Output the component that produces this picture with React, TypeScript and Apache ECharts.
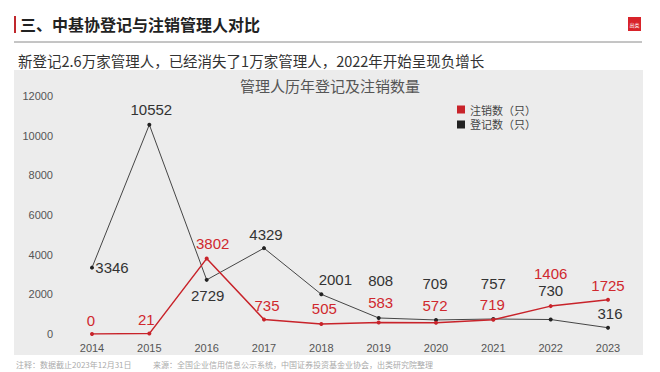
import React, { useEffect, useRef } from "react";
import * as echarts from "echarts";

const years = ["2014", "2015", "2016", "2017", "2018", "2019", "2020", "2021", "2022", "2023"];
const registered = [3346, 10552, 2729, 4329, 2001, 808, 709, 757, 730, 316];
const cancelled = [0, 21, 3802, 735, 505, 583, 572, 719, 1406, 1725];
const yTicks = { min: 0, max: 12000, interval: 2000 };

// label offsets (px) from each point, for placement only
const regLabelOffsets = [[20, 0], [2, -15], [1, 16], [2, -14], [14, -15], [2, -37], [-1, -36], [0, -35], [0, -29], [2, -14]];
const canLabelOffsets = [[-1, -14], [-3, -14], [6, -15], [3, -14], [3, -15], [2, -20], [-1, -17], [-1, -15], [0, -33], [0, -14]];

const RED = "#c8232a";
const RED_TEXT = "#d0282e";
const DARK = "#454545";
const CJK = '"Noto Sans CJK SC", "Noto Sans", sans-serif';
const NUM = '"Liberation Sans", Arial, sans-serif';

export default function App() {
  const ref = useRef<HTMLDivElement>(null);
  useEffect(() => {
    document.body.style.margin = "0";
    const chart = echarts.init(ref.current!, null, { renderer: "svg" });
    const mk = (vals: number[], offs: number[][], color: string) =>
      vals.map((v, i) => ({
        value: v,
        label: { show: true, position: "inside", offset: offs[i], color, fontSize: 15, fontFamily: NUM },
      }));
    chart.setOption({
      animation: false,
      backgroundColor: "#ffffff",
      graphic: [
        { type: "rect", shape: { x: 14, y: 70, width: 629, height: 285 }, style: { fill: "#ececec" }, z: -10, silent: true },
        { type: "rect", shape: { x: 14, y: 16, width: 2, height: 17 }, style: { fill: "#c0282d" } },
        { type: "text", x: 20, y: 24, style: { text: "三、中基协登记与注销管理人对比", fontSize: 16, fontWeight: "bold", fill: "#222", fontFamily: CJK, verticalAlign: "middle" } },
        { type: "line", shape: { x1: 14, y1: 42, x2: 642, y2: 42 }, style: { stroke: "#8a8a8a", lineWidth: 1 } },
        { type: "rect", shape: { x: 628, y: 17, width: 13, height: 14 }, style: { fill: "#d8232a" } },
        { type: "text", x: 634.5, y: 24, style: { text: "出类", fontSize: 5, fill: "#fff", align: "center", verticalAlign: "middle", fontFamily: CJK } },
        { type: "text", x: 18, y: 60, style: { text: "新登记2.6万家管理人，已经消失了1万家管理人，2022年开始呈现负增长", fontSize: 14.5, fill: "#333", fontFamily: CJK, verticalAlign: "middle" } },
        { type: "text", x: 330, y: 85, style: { text: "管理人历年登记及注销数量", fontSize: 15, fill: "#555", fontFamily: CJK, align: "center", verticalAlign: "middle" } },
        { type: "text", x: 16, y: 364, style: { text: "注释：数据截止2023年12月31日", fontSize: 8, fill: "#aaa", fontFamily: CJK, verticalAlign: "middle" } },
        { type: "text", x: 153, y: 364, style: { text: "来源：全国企业信用信息公示系统，中国证券投资基金业协会，出类研究院整理", fontSize: 8, fill: "#aaa", fontFamily: CJK, verticalAlign: "middle" } },
      ],
      legend: {
        orient: "vertical",
        left: 452,
        top: 99,
        itemWidth: 8,
        itemHeight: 8,
        itemGap: 4,
        icon: "rect",
        data: ["注销数（只）", "登记数（只）"],
        textStyle: { fontSize: 11, color: "#444", fontFamily: CJK },
      },
      grid: { left: 92, right: 52, top: 96, bottom: 38 },
      xAxis: {
        type: "category",
        data: years,
        boundaryGap: false,
        axisLine: { show: false },
        axisTick: { show: false },
        axisLabel: { fontSize: 11, color: "#555", fontFamily: NUM, margin: 8 },
      },
      yAxis: {
        type: "value",
        min: yTicks.min,
        max: yTicks.max,
        interval: yTicks.interval,
        splitLine: { show: false },
        axisLine: { show: false },
        axisTick: { show: false },
        axisLabel: { fontSize: 11, color: "#555", fontFamily: NUM, margin: 39, formatter: (v: number) => String(v) },
      },
      series: [
        {
          name: "注销数（只）",
          type: "line",
          data: mk(cancelled, canLabelOffsets, RED_TEXT),
          symbol: "circle",
          symbolSize: 4,
          lineStyle: { color: RED, width: 1.5 },
          itemStyle: { color: RED },
          z: 3,
        },
        {
          name: "登记数（只）",
          type: "line",
          data: mk(registered, regLabelOffsets, "#333"),
          symbol: "circle",
          symbolSize: 4,
          lineStyle: { color: DARK, width: 1 },
          itemStyle: { color: "#222" },
          z: 2,
        },
      ],
    });
    return () => chart.dispose();
  }, []);
  return <div ref={ref} style={{ width: 660, height: 372 }} />;
}
